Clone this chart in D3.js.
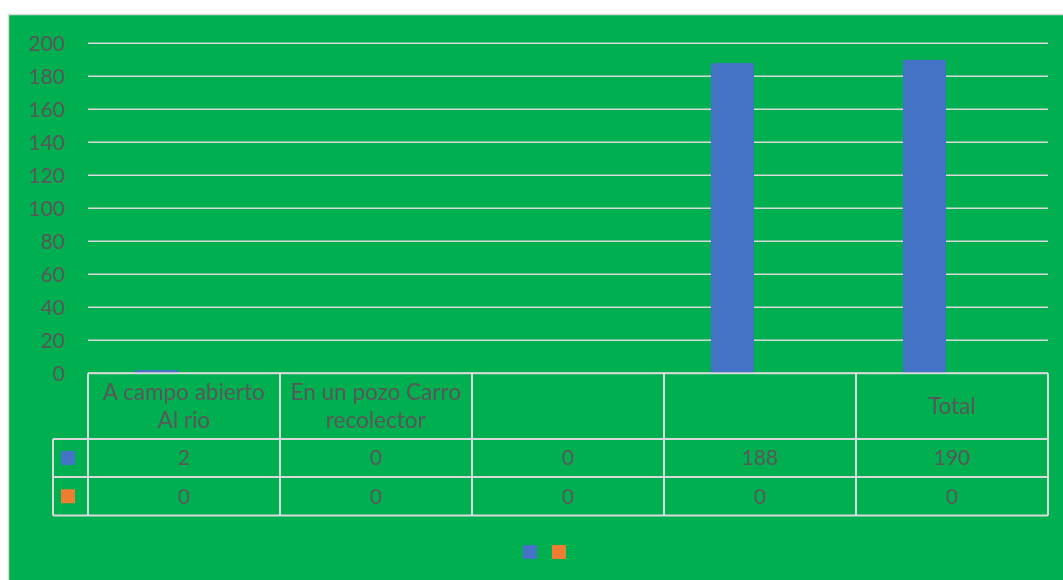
<!DOCTYPE html>
<html><head><meta charset="utf-8">
<script src="https://cdn.jsdelivr.net/npm/d3@7"></script>
<style>html,body{margin:0;padding:0;background:#fff;}svg{display:block;}</style>
</head><body>
<svg id="c" width="1063" height="580"></svg>
<script>
const categories = ["A campo abierto Al rio", "En un pozo Carro recolector", "", "", "Total"];
const categoryLines = [["A campo abierto", "Al rio"], ["En un pozo Carro", "recolector"], [], [], ["Total"]];
const seriesNames = ["", ""];
const series1 = [2, 0, 0, 188, 190];
const series2 = [0, 0, 0, 0, 0];
const yTicks = [0, 20, 40, 60, 80, 100, 120, 140, 160, 180, 200];
const colors = ["#4472C4", "#ED7D31"];

(function () {
const svg = d3.select("#c");
const font = "Lato, 'Open Sans', sans-serif";
const txt = "#595959";
const grid = "#D9D9D9";

svg.append("rect").attr("x", 8.5).attr("y", 14.5).attr("width", 1070).attr("height", 580)
  .attr("fill", "#00B050").attr("stroke", grid).attr("stroke-width", 1.5);

const pLeft = 88, pRight = 1048, pTop = 43.3, pBottom = 373.3;
const y = d3.scaleLinear().domain([0, 200]).range([pBottom, pTop]);
const idx = categories.map((d, i) => i);
const x0 = d3.scaleBand().domain(idx).range([pLeft, pRight]).padding(0);
const x1 = d3.scaleBand().domain([0, 1]).range([47, 133]).padding(0);

// gridlines
svg.append("g").selectAll("line").data(yTicks).join("line")
  .attr("x1", pLeft).attr("x2", pRight)
  .attr("y1", d => y(d)).attr("y2", d => y(d))
  .attr("stroke", grid).attr("stroke-width", 1.5);

// y axis labels
const yAxis = d3.axisLeft(y).tickValues(yTicks).tickSize(0).tickPadding(0);
const ga = svg.append("g").attr("transform", "translate(65,0)").call(yAxis);
ga.select(".domain").remove();
ga.selectAll("text").attr("fill", txt).style("font-family", font).style("font-size", "21px");

// bars
const allSeries = [series1, series2];
allSeries.forEach((s, si) => {
  svg.append("g").selectAll("rect").data(s).join("rect")
    .attr("x", (d, i) => x0(i) + x1(si))
    .attr("width", x1.bandwidth())
    .attr("y", d => y(d))
    .attr("height", d => y(0) - y(d))
    .attr("fill", colors[si]);
});

// data table
const hdrBottom = 439, row1Bottom = 477, row2Bottom = 515.5, keyLeft = 53;
const tg = svg.append("g").attr("stroke", grid).attr("stroke-width", 2).attr("fill", "none");
tg.append("line").attr("x1", pLeft).attr("x2", pRight).attr("y1", pBottom).attr("y2", pBottom);
[hdrBottom, row1Bottom, row2Bottom].forEach(yy =>
  tg.append("line").attr("x1", keyLeft).attr("x2", pRight).attr("y1", yy).attr("y2", yy));
tg.append("line").attr("x1", keyLeft).attr("x2", keyLeft).attr("y1", hdrBottom).attr("y2", row2Bottom);
idx.concat([idx.length]).forEach(i => {
  const xx = i < idx.length ? x0(i) : pRight;
  tg.append("line").attr("x1", xx).attr("x2", xx).attr("y1", pBottom).attr("y2", row2Bottom);
});

// header text
idx.forEach(i => {
  const lines = categoryLines[i];
  const cy = (pBottom + hdrBottom) / 2;
  const lh = 28;
  lines.forEach((ln, li) => {
    svg.append("text").attr("x", x0(i) + x0.bandwidth() / 2)
      .attr("y", cy + (li - (lines.length - 1) / 2) * lh)
      .attr("dy", "0.35em").attr("text-anchor", "middle")
      .attr("fill", txt).style("font-family", font).style("font-size", "22.5px").text(ln);
  });
});

// value rows
const rowCenters = [(hdrBottom + row1Bottom) / 2, (row1Bottom + row2Bottom) / 2];
allSeries.forEach((s, si) => {
  svg.append("rect").attr("x", 61).attr("y", rowCenters[si] - 7).attr("width", 14).attr("height", 14).attr("fill", colors[si]);
  svg.append("g").selectAll("text").data(s).join("text")
    .attr("x", (d, i) => x0(i) + x0.bandwidth() / 2)
    .attr("y", rowCenters[si]).attr("dy", "0.35em").attr("text-anchor", "middle")
    .attr("fill", txt).style("font-family", font).style("font-size", "21px").text(d => d);
});

// legend
seriesNames.forEach((n, si) => {
  svg.append("rect").attr("x", 523 + si * 29).attr("y", 545).attr("width", 14).attr("height", 14).attr("fill", colors[si]);
});
})();
</script>
</body></html>
